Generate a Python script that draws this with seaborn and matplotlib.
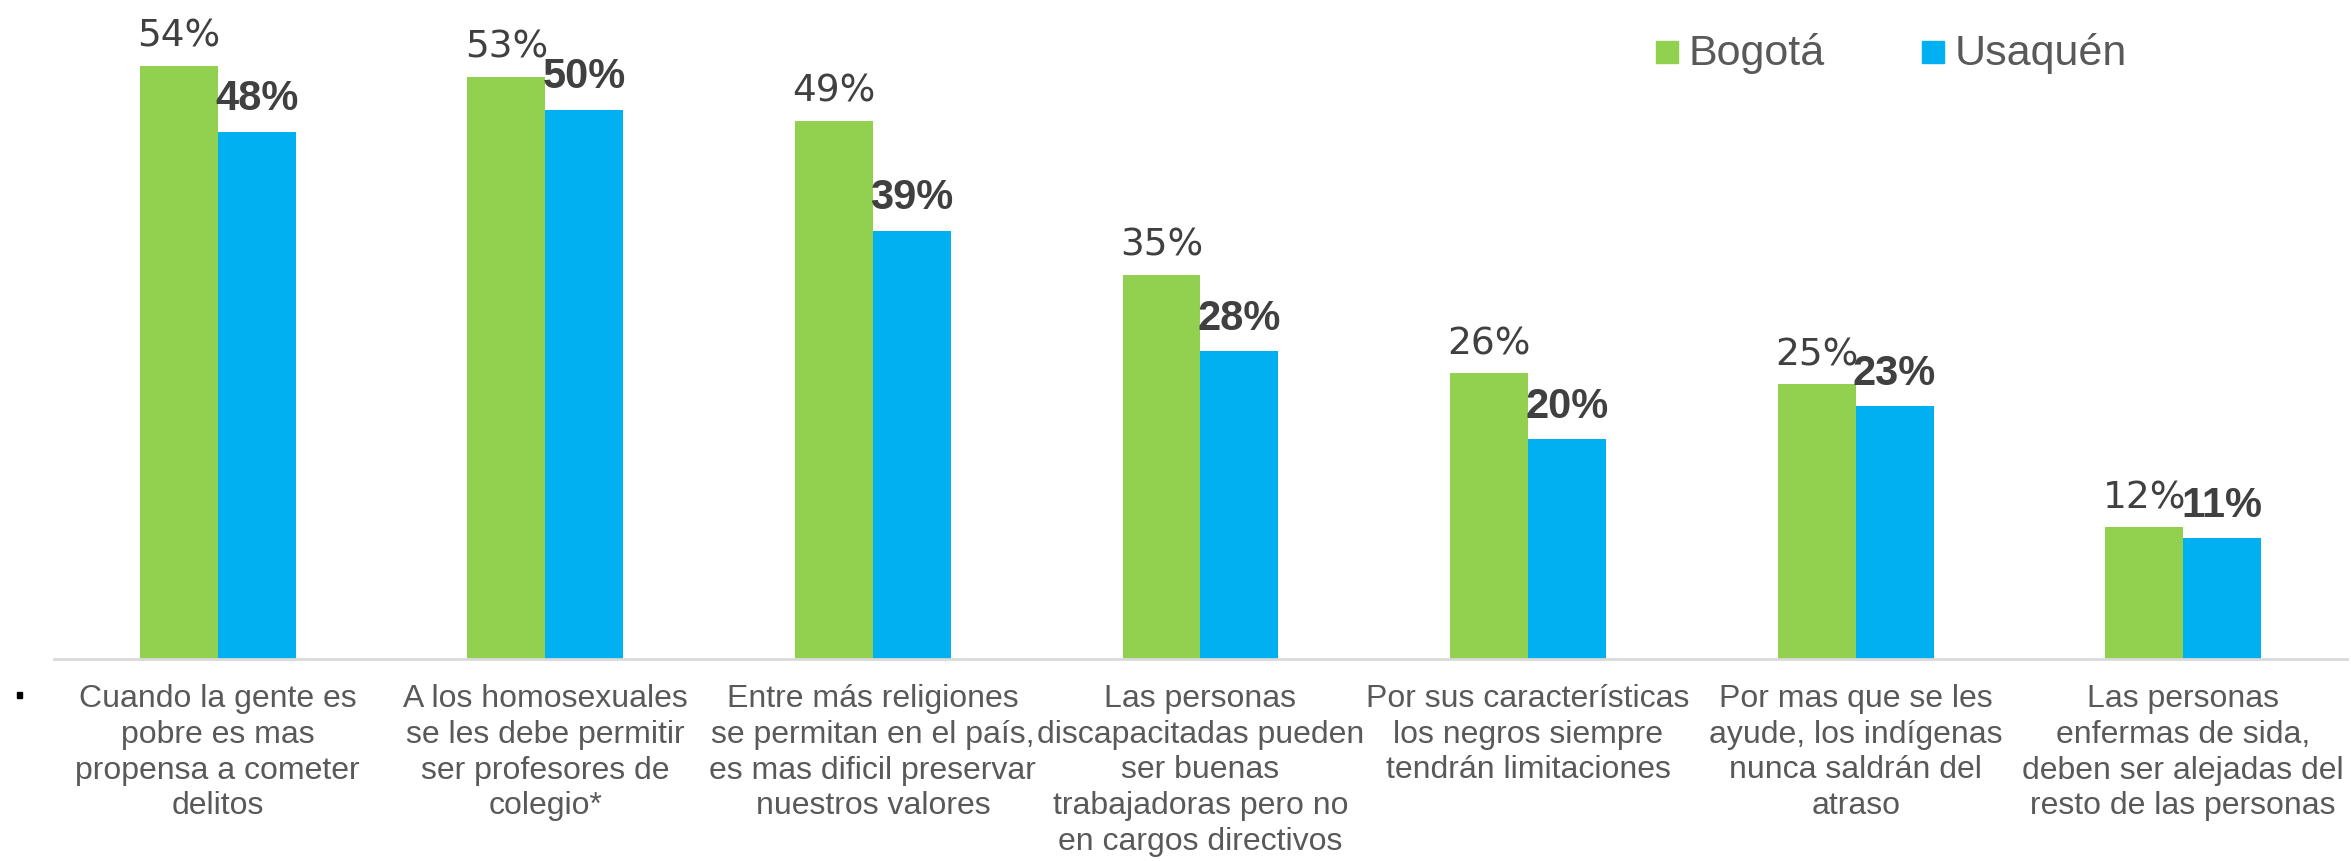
import matplotlib
matplotlib.use("Agg")
import matplotlib.pyplot as plt
import seaborn as sns
import pandas as pd
from matplotlib.patches import Rectangle

categories = [
    "Cuando la gente es\npobre es mas\npropensa a cometer\ndelitos",
    "A los homosexuales\nse les debe permitir\nser profesores de\ncolegio*",
    "Entre más religiones\nse permitan en el país,\nes mas dificil preservar\nnuestros valores",
    "Las personas\ndiscapacitadas pueden\nser buenas\ntrabajadoras pero no\nen cargos directivos",
    "Por sus características\nlos negros siempre\ntendrán limitaciones",
    "Por mas que se les\nayude, los indígenas\nnunca saldrán del\natraso",
    "Las personas\nenfermas de sida,\ndeben ser alejadas del\nresto de las personas",
]
series_names = ["Bogotá", "Usaquén"]
bogota = [54, 53, 49, 35, 26, 25, 12]
usaquen = [48, 50, 39, 28, 20, 23, 11]

colors = ["#92D050", "#00B0F0"]

df = pd.DataFrame({
    "cat": categories * 2,
    "serie": [series_names[0]] * len(categories) + [series_names[1]] * len(categories),
    "val": bogota + usaquen,
})

sns.set_style("white")
W, H = 2351, 861
fig = plt.figure(figsize=(W / 100, H / 100), dpi=100)
ax = fig.add_axes([54 / W, (H - 659) / H, (2347 - 54) / W, 659 / H])

sns.barplot(data=df, x="cat", y="val", hue="serie", palette=colors,
            width=0.476, linewidth=0, edgecolor="none", saturation=1,
            legend=False, ax=ax, order=categories, hue_order=series_names)

ax.set_xlim(-0.5, len(categories) - 0.5)
ax.set_ylim(0, 60)
for s in ["top", "right", "left"]:
    ax.spines[s].set_visible(False)
ax.spines["bottom"].set_color("#D9D9D9")
ax.spines["bottom"].set_linewidth(2)
ax.set_yticks([])
ax.set_xlabel("")
ax.set_ylabel("")
ax.tick_params(axis="x", length=0, pad=18)
ax.set_xticks(range(len(categories)))
ax.set_xticklabels(categories, fontsize=23, color="#595959",
                   family="Liberation Sans", linespacing=1.25, va="top")
ax.patch.set_alpha(0)

conts = ax.containers
ax.bar_label(conts[0], labels=[f"{v}%" for v in bogota], padding=8,
             fontsize=27, color="#404040", family="DejaVu Sans")
ax.bar_label(conts[1], labels=[f"{v}%" for v in usaquen], padding=9,
             fontsize=30, color="#404040", fontweight="bold",
             family="Liberation Sans")

# legend
for x0, name, c in [(1656, series_names[0], colors[0]), (1922, series_names[1], colors[1])]:
    fig.patches.append(Rectangle((x0 / W, 1 - 63 / H), 22 / W, 22 / H,
                                 transform=fig.transFigure, color=c))
    fig.text((x0 + 33) / W, 1 - 54 / H, name, fontsize=31, color="#595959",
             family="Liberation Sans", va="center", ha="left")

fig.patches.append(Rectangle((17 / W, 1 - 698 / H), 5 / W, 6 / H,
                             transform=fig.transFigure, color="black"))

fig.savefig("out.png", dpi=100)
